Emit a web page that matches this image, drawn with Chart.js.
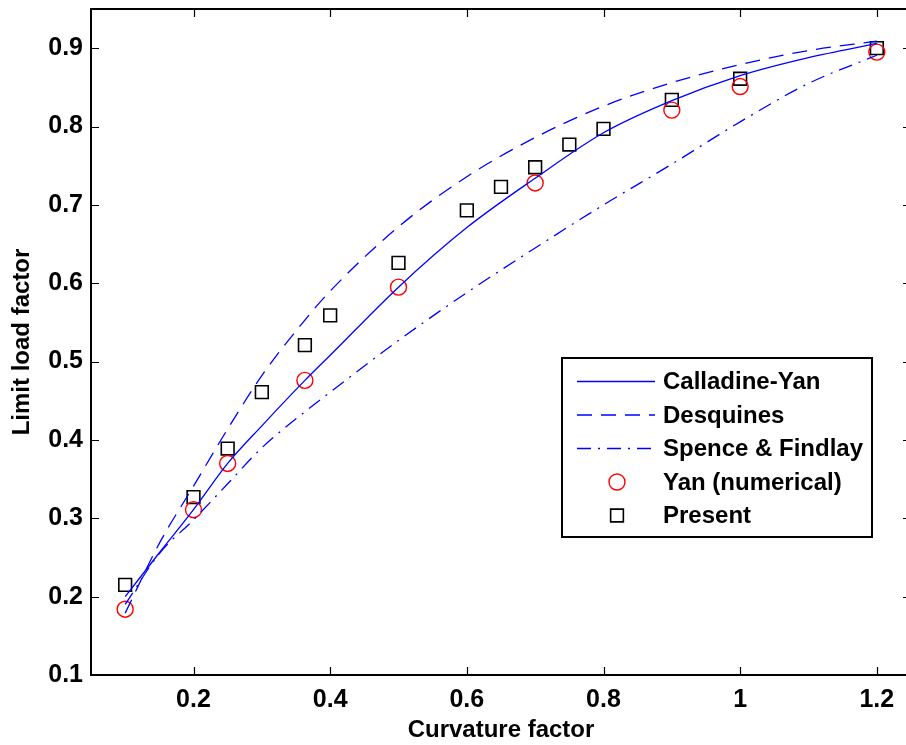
<!DOCTYPE html>
<html>
<head>
<meta charset="utf-8">
<script src="https://cdn.jsdelivr.net/npm/chart.js@4/dist/chart.umd.min.js"></script>
<style>
  html, body { margin: 0; padding: 0; background: #fff; overflow: hidden; width: 906px; height: 745px; }
  #wrap { width: 906px; height: 745px; overflow: hidden; position: relative; }
  #limitChart { position: absolute; left: 0; top: 0; }
</style>
</head>
<body>
<div id="wrap"><canvas id="limitChart" width="912" height="745"></canvas></div>
<script>
// Axis ticks
const xTicks = [0.2, 0.4, 0.6, 0.8, 1.0, 1.2];
const yTicks = [0.1, 0.2, 0.3, 0.4, 0.5, 0.6, 0.7, 0.8, 0.9];

// Curves
const curveX = [0.1, 0.15, 0.2, 0.25, 0.3, 0.363, 0.4, 0.5, 0.6, 0.7, 0.8, 0.9, 1.0, 1.1, 1.2];
const calladineYan = [0.200, 0.256, 0.311, 0.370, 0.418, 0.476, 0.508, 0.595, 0.671, 0.734, 0.792, 0.833, 0.865, 0.888, 0.906];
const desquines    = [0.179, 0.268, 0.341, 0.414, 0.482, 0.553, 0.590, 0.672, 0.736, 0.786, 0.826, 0.856, 0.879, 0.897, 0.909];
const spenceFindlay = [0.190, 0.255, 0.298, 0.344, 0.390, 0.436, 0.461, 0.527, 0.588, 0.645, 0.700, 0.752, 0.806, 0.855, 0.891];

// Yan (numerical) - red circles
const yanX = [0.1, 0.2, 0.25, 0.363, 0.5, 0.7, 0.9, 1.0, 1.2];
const yanY = [0.184, 0.311, 0.370, 0.476, 0.595, 0.728, 0.821, 0.851, 0.895];

// Present - black squares
const presentX = [0.1, 0.2, 0.25, 0.3, 0.363, 0.4, 0.5, 0.6, 0.65, 0.7, 0.75, 0.8, 0.9, 1.0, 1.2];
const presentY = [0.215, 0.327, 0.389, 0.461, 0.521, 0.559, 0.626, 0.693, 0.723, 0.748, 0.777, 0.797, 0.834, 0.861, 0.900];

const pts = (xs, ys) => xs.map((x, i) => ({ x: x, y: ys[i] }));

const BLUE = '#0000ff';
const FONT = "'Liberation Sans', Arial, Helvetica, sans-serif";

// Box round the plot with inward ticks on all four sides
const framePlugin = {
    id: 'frame',
    afterDatasetsDraw(chart) {
        const { ctx, chartArea: a, scales } = chart;
        ctx.save();
        ctx.strokeStyle = '#000';
        ctx.lineWidth = 1.2;
        ctx.beginPath();
        xTicks.forEach(v => {
            const px = Math.round(scales.x.getPixelForValue(v)) + 0.5;
            ctx.moveTo(px, a.bottom); ctx.lineTo(px, a.bottom - 8);
            ctx.moveTo(px, a.top); ctx.lineTo(px, a.top + 8);
        });
        yTicks.forEach(v => {
            const py = Math.round(scales.y.getPixelForValue(v)) + 0.5;
            ctx.moveTo(a.left, py); ctx.lineTo(a.left + 8, py);
            ctx.moveTo(a.right, py); ctx.lineTo(a.right - 8, py);
        });
        ctx.stroke();
        ctx.lineWidth = 2;
        ctx.strokeRect(a.left, a.top, a.right - a.left, a.bottom - a.top);
        ctx.restore();
    }
};

// Legend drawn inside the plot, MATLAB style
const boxLegend = {
    id: 'boxLegend',
    afterDraw(chart) {
        const { ctx } = chart;
        const left = 562, top = 358, w = 310, h = 179;
        const rowH = 33.5, firstRow = 381.5;
        ctx.save();
        ctx.fillStyle = '#fff';
        ctx.fillRect(left, top, w, h);
        ctx.strokeStyle = '#000';
        ctx.lineWidth = 2;
        ctx.strokeRect(left, top, w, h);
        ctx.font = 'bold 24px ' + FONT;
        ctx.textBaseline = 'middle';
        ctx.textAlign = 'left';
        chart.data.datasets.forEach((ds, i) => {
            const yy = firstRow + i * rowH;
            ctx.strokeStyle = ds.borderColor;
            ctx.lineWidth = ds.borderWidth;
            if (ds.showLine) {
                ctx.setLineDash(ds.borderDash || []);
                ctx.beginPath();
                ctx.moveTo(577, yy); ctx.lineTo(655, yy);
                ctx.stroke();
                ctx.setLineDash([]);
            } else {
                ctx.beginPath();
                if (ds.pointStyle === 'circle') {
                    ctx.arc(617, yy, ds.pointRadius, 0, Math.PI * 2);
                } else {
                    const s = ds.pointRadius * Math.SQRT1_2;
                    ctx.rect(617 - s, yy - s, 2 * s, 2 * s);
                }
                ctx.stroke();
            }
            ctx.fillStyle = '#000';
            ctx.fillText(ds.label, 663, yy + 1);
        });
        ctx.restore();
    }
};

const ctx = document.getElementById('limitChart').getContext('2d');

new Chart(ctx, {
    type: 'scatter',
    plugins: [framePlugin, boxLegend],
    data: {
        datasets: [
            {
                label: 'Calladine-Yan',
                data: pts(curveX, calladineYan),
                showLine: true,
                borderColor: BLUE,
                borderWidth: 1.3,
                pointRadius: 0,
                cubicInterpolationMode: 'monotone'
            },
            {
                label: 'Desquines',
                data: pts(curveX, desquines),
                showLine: true,
                borderColor: BLUE,
                borderWidth: 1.3,
                borderDash: [15, 9],
                pointRadius: 0,
                cubicInterpolationMode: 'monotone'
            },
            {
                label: 'Spence & Findlay',
                data: pts(curveX, spenceFindlay),
                showLine: true,
                borderColor: BLUE,
                borderWidth: 1.3,
                borderDash: [14, 7, 2, 7],
                pointRadius: 0,
                cubicInterpolationMode: 'monotone'
            },
            {
                label: 'Yan (numerical)',
                data: pts(yanX, yanY),
                showLine: false,
                pointStyle: 'circle',
                pointRadius: 8,
                borderColor: '#ff0000',
                backgroundColor: 'rgba(0,0,0,0)',
                borderWidth: 1.4
            },
            {
                label: 'Present',
                data: pts(presentX, presentY),
                showLine: false,
                pointStyle: 'rect',
                pointRadius: 9,
                borderColor: '#000',
                backgroundColor: 'rgba(0,0,0,0)',
                borderWidth: 1.6
            }
        ]
    },
    options: {
        responsive: false,
        animation: false,
        layout: { autoPadding: false, padding: { top: 9, right: 1, left: 0, bottom: 0 } },
        plugins: {
            legend: { display: false },
            tooltip: { enabled: false }
        },
        scales: {
            x: {
                type: 'linear',
                min: 0.05,
                max: 1.25,
                grid: { display: false, drawTicks: false },
                border: { display: false },
                afterBuildTicks: s => { s.ticks = xTicks.map(v => ({ value: v })); },
                afterFit: s => { s.height = 70; s.paddingLeft = 0; s.paddingRight = 0; },
                ticks: {
                    color: '#000',
                    padding: 10,
                    maxRotation: 0,
                    callback: v => String(v),
                    font: { family: FONT, size: 25, weight: 'bold' }
                },
                title: {
                    display: true,
                    text: 'Curvature factor',
                    color: '#000',
                    padding: { top: 0, bottom: 0 },
                    font: { family: FONT, size: 24, weight: 'bold' }
                }
            },
            y: {
                type: 'linear',
                min: 0.1,
                max: 0.95,
                grid: { display: false, drawTicks: false },
                border: { display: false },
                afterBuildTicks: s => { s.ticks = yTicks.map(v => ({ value: v })); },
                afterFit: s => { s.width = 91; s.paddingTop = 0; s.paddingBottom = 0; },
                ticks: {
                    color: '#000',
                    padding: 8,
                    callback: v => String(v),
                    font: { family: FONT, size: 25, weight: 'bold' }
                },
                title: {
                    display: true,
                    text: 'Limit load factor',
                    color: '#000',
                    padding: { top: 8, bottom: 0 },
                    font: { family: FONT, size: 24, weight: 'bold' }
                }
            }
        }
    }
});
</script>
</body>
</html>
